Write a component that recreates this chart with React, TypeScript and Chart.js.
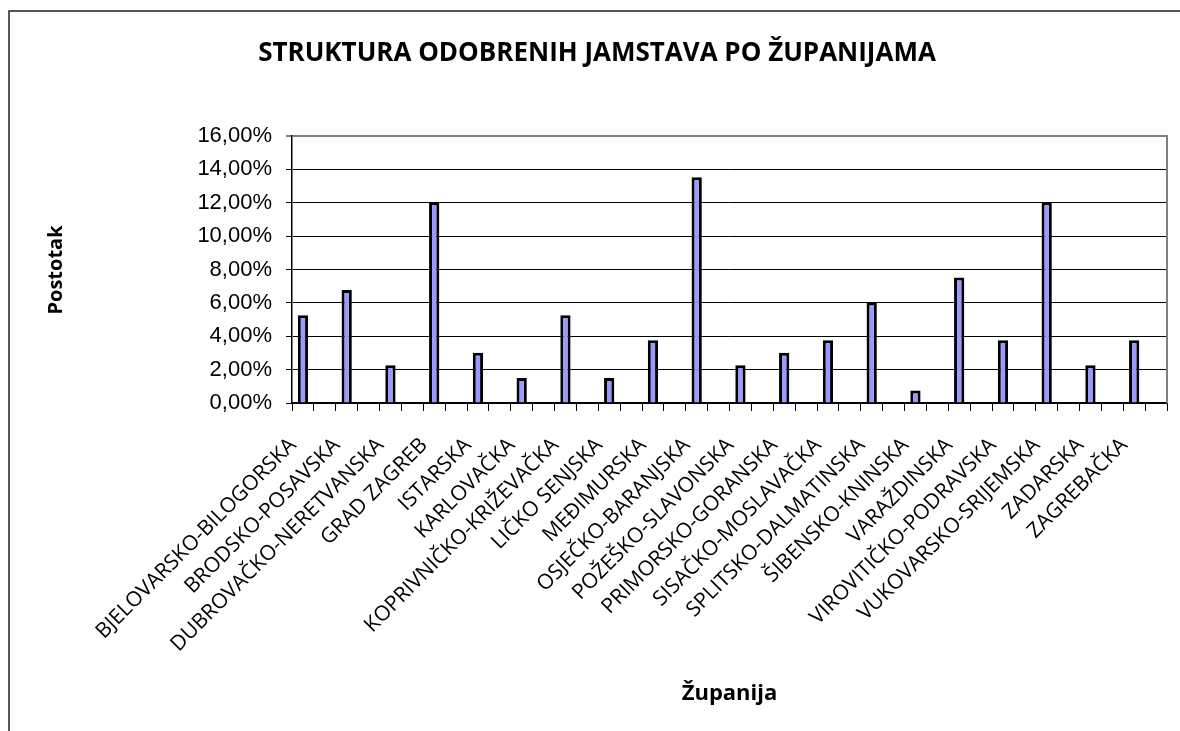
import React, { useEffect, useRef } from "react";
import { Chart, registerables } from "chart.js";

Chart.register(...registerables);

const TITLE = "STRUKTURA ODOBRENIH JAMSTAVA PO ŽUPANIJAMA";
const Y_TITLE = "Postotak";
const X_TITLE = "Županija";

const COUNTIES = [
  "BJELOVARSKO-BILOGORSKA",
  "BRODSKO-POSAVSKA",
  "DUBROVAČKO-NERETVANSKA",
  "GRAD ZAGREB",
  "ISTARSKA",
  "KARLOVAČKA",
  "KOPRIVNIČKO-KRIŽEVAČKA",
  "LIČKO SENJSKA",
  "MEĐIMURSKA",
  "OSJEČKO-BARANJSKA",
  "POŽEŠKO-SLAVONSKA",
  "PRIMORSKO-GORANSKA",
  "SISAČKO-MOSLAVAČKA",
  "SPLITSKO-DALMATINSKA",
  "ŠIBENSKO-KNINSKA",
  "VARAŽDINSKA",
  "VIROVITIČKO-PODRAVSKA",
  "VUKOVARSKO-SRIJEMSKA",
  "ZADARSKA",
  "ZAGREBAČKA",
];

const SHARES = [
  5.26, 6.77, 2.26, 12.03, 3.01, 1.5, 5.26, 1.5, 3.76, 13.53, 2.26, 3.01, 3.76,
  6.02, 0.75, 7.52, 3.76, 12.03, 2.26, 3.76,
];

const Y_MIN = 0;
const Y_MAX = 16;
const Y_STEP = 2;

// The source axis has an empty slot after every county
const LABELS = COUNTIES.flatMap((c) => [c, ""]);
const VALUES = SHARES.flatMap((v) => [v, null]);

const W = 1180;
const H = 731;

const decor = {
  id: "decor",
  beforeDraw(chart: any) {
    const { ctx } = chart;
    ctx.save();
    ctx.fillStyle = "#ffffff";
    ctx.fillRect(0, 0, W, H);
    ctx.restore();
  },
  afterDraw(chart: any) {
    const { ctx, chartArea } = chart;
    ctx.save();
    // outer frame
    ctx.strokeStyle = "#222";
    ctx.lineWidth = 1.5;
    ctx.beginPath();
    ctx.moveTo(9, H + 5);
    ctx.lineTo(9, 11);
    ctx.lineTo(W + 5, 11);
    ctx.stroke();
    // right border of plot
    ctx.strokeStyle = "#808080";
    ctx.lineWidth = 2;
    ctx.beginPath();
    ctx.moveTo(chartArea.right, chartArea.top - 1);
    ctx.lineTo(chartArea.right, chartArea.bottom);
    ctx.stroke();
    // title
    ctx.fillStyle = "#000";
    ctx.textAlign = "center";
    ctx.textBaseline = "alphabetic";
    ctx.font = "bold 26px 'Open Sans', sans-serif";
    ctx.fillText(TITLE, 597, 61);
    // x title
    ctx.font = "bold 22px 'Open Sans', sans-serif";
    ctx.fillText(X_TITLE, (chartArea.left + chartArea.right) / 2, 700);
    // y title
    ctx.font = "bold 20px 'Open Sans', sans-serif";
    ctx.translate(62, 270);
    ctx.rotate(-Math.PI / 2);
    ctx.fillText(Y_TITLE, 0, 0);
    ctx.restore();
  },
};

export default function App() {
  const ref = useRef<HTMLCanvasElement | null>(null);

  useEffect(() => {
    if (!ref.current) return;
    const chart = new Chart(ref.current, {
      type: "bar",
      data: {
        labels: LABELS,
        datasets: [
          {
            data: VALUES as any,
            backgroundColor: "#9999FF",
            borderColor: "#000000",
            borderWidth: 3,
            barPercentage: 0.47,
            categoryPercentage: 1,
          },
        ],
      },
      options: {
        responsive: false,
        animation: false,
        devicePixelRatio: 1,
        layout: { padding: { top: 136, right: 13, left: 0, bottom: 0 } },
        plugins: {
          legend: { display: false },
          tooltip: { enabled: false },
          title: { display: false },
        },
        scales: {
          x: {
            offset: true,
            grid: {
              offset: true,
              drawOnChartArea: false,
              drawTicks: true,
              tickLength: 8,
              color: "#000",
              lineWidth: 1,
            },
            border: { display: true, color: "#000", width: 1.5 },
            ticks: {
              autoSkip: false,
              minRotation: 45,
              maxRotation: 45,
              padding: 22,
              labelOffset: -10,
              color: "#000",
              font: { family: "'Open Sans', sans-serif", size: 21 },
            },
            afterFit: (s: any) => {
              s.height = H - 403;
              s.paddingLeft = 0;
              s.paddingRight = 0;
            },
          },
          y: {
            min: Y_MIN,
            max: Y_MAX,
            grid: {
              tickLength: 6,
              color: (c: any) => (c.tick && c.tick.value === Y_MAX ? "#808080" : "#000"),
              lineWidth: (c: any) => (c.tick && c.tick.value === Y_MAX ? 2 : 1),
            },
            border: { display: true, color: "#000", width: 1.5 },
            ticks: {
              stepSize: Y_STEP,
              padding: 14,
              color: "#000",
              font: { family: "'Liberation Sans', Arial, sans-serif", size: 22 },
              callback: (v: any) => Number(v).toFixed(2).replace(".", ",") + "%",
            },
            afterFit: (s: any) => {
              s.width = 292;
              s.paddingTop = 0;
              s.paddingBottom = 0;
            },
          },
        },
      },
      plugins: [decor],
    });
    return () => chart.destroy();
  }, []);

  return (
    <canvas
      ref={ref}
      width={W}
      height={H}
      style={{ position: "fixed", left: 0, top: 0, width: W, height: H, display: "block" }}
    />
  );
}
